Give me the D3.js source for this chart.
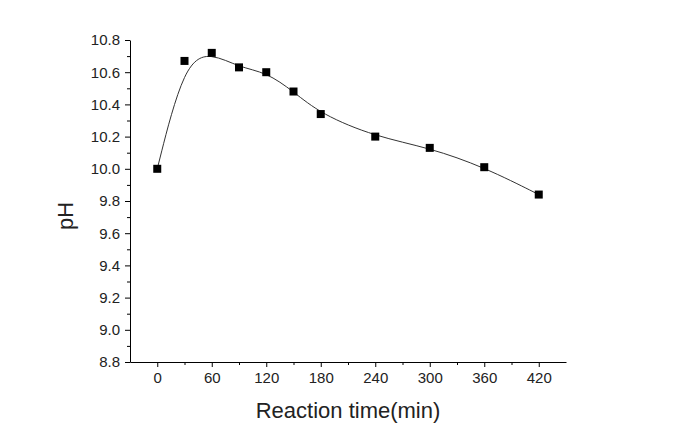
<!DOCTYPE html>
<html>
<head>
<meta charset="utf-8">
<script src="https://cdn.jsdelivr.net/npm/d3@7"></script>
<style>
  body { margin: 0; background: #fff; }
  text { font-family: "Liberation Sans", Arial, sans-serif; fill: #222; }
</style>
</head>
<body>
<div id="chart"></div>
<script>
// Chart data
var times = [0, 30, 60, 90, 120, 150, 180, 240, 300, 360, 420];
var phValues = [10.0, 10.67, 10.72, 10.63, 10.60, 10.48, 10.34, 10.20, 10.13, 10.01, 9.84];
var xTicks = [0, 60, 120, 180, 240, 300, 360, 420];
var yTicks = [8.8, 9.0, 9.2, 9.4, 9.6, 9.8, 10.0, 10.2, 10.4, 10.6, 10.8];

var svgWidth = 686;
var svgHeight = 438;
var margin = { top: 40, right: 120, bottom: 76, left: 130 };
var width = svgWidth - margin.left - margin.right;
var height = svgHeight - margin.top - margin.bottom;

var svg = d3.select("#chart").append("svg")
  .attr("width", svgWidth)
  .attr("height", svgHeight);

var chartGroup = svg.append("g")
  .attr("transform", `translate(${margin.left}, ${margin.top})`);

// Scales
var xScale = d3.scaleLinear().domain([-30, 450]).range([0, width]);
var yScale = d3.scaleLinear().domain([8.8, 10.8]).range([height, 0]);

// Minor ticks first
chartGroup.append("g")
  .attr("transform", `translate(0, ${height})`)
  .call(d3.axisBottom(xScale).tickValues(d3.range(30, 450, 60)).tickSize(3).tickFormat(""))
  .call(g => g.select(".domain").remove());

chartGroup.append("g")
  .call(d3.axisLeft(yScale).tickValues(d3.range(8.9, 10.8, 0.2)).tickSize(3).tickFormat(""))
  .call(g => g.select(".domain").remove());

// Major axes
var bottomAxis = d3.axisBottom(xScale).tickValues(xTicks).tickSize(5).tickSizeOuter(0).tickPadding(5);
var leftAxis = d3.axisLeft(yScale).tickValues(yTicks).tickSize(5).tickSizeOuter(0).tickPadding(5)
  .tickFormat(d3.format(".1f"));

chartGroup.append("g")
  .attr("transform", `translate(0, ${height})`)
  .call(bottomAxis)
  .selectAll("text").style("font-size", "15px");

chartGroup.append("g")
  .call(leftAxis)
  .selectAll("text").style("font-size", "15px");

// Smooth curve
var line = d3.line()
  .x((d, i) => xScale(times[i]))
  .y(d => yScale(d))
  .curve(d3.curveBasis);

chartGroup.append("path")
  .datum(phValues)
  .attr("d", line)
  .attr("fill", "none")
  .attr("stroke", "#333")
  .attr("stroke-width", 1);

// Square markers
var size = 8;
chartGroup.selectAll("rect.pt")
  .data(phValues)
  .enter()
  .append("rect")
  .attr("class", "pt")
  .attr("x", (d, i) => xScale(times[i]) - size / 2)
  .attr("y", d => yScale(d) - size / 2)
  .attr("width", size)
  .attr("height", size)
  .attr("fill", "#000");

// Axis labels
chartGroup.append("text")
  .attr("transform", `translate(${-57}, ${176}) rotate(-90)`)
  .attr("text-anchor", "middle")
  .style("font-size", "22px")
  .text("pH");

chartGroup.append("text")
  .attr("x", width / 2)
  .attr("y", height + 56)
  .attr("text-anchor", "middle")
  .style("font-size", "22px")
  .text("Reaction time(min)");
</script>
</body>
</html>
